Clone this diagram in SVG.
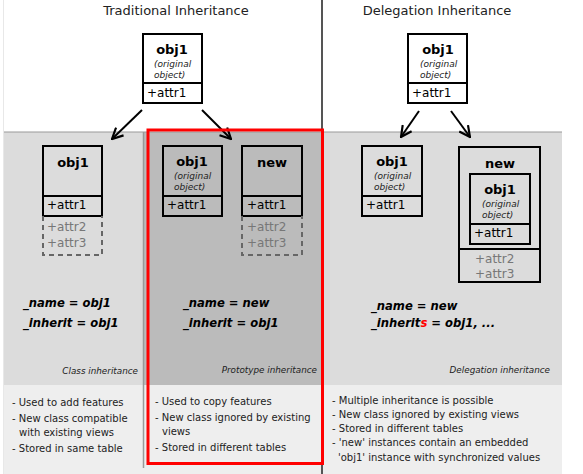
<svg xmlns="http://www.w3.org/2000/svg" width="583" height="474" viewBox="0 0 583 474">
<defs>
<style>
text{font-family:"DejaVu Sans","Liberation Sans",sans-serif;fill:#000}
.title{font-size:13px;text-anchor:middle;fill:#222}
.box{fill:none;stroke:#000;stroke-width:2}
.dash{fill:none;stroke:#666;stroke-width:2;stroke-dasharray:5,4}
.nm{font-size:13px;font-weight:bold;text-anchor:middle}
.orig{font-size:9px;font-style:italic;fill:#222}
.attr{font-size:12px}
.gattr{font-size:12px;fill:#777}
.code{font-size:11.6px;font-weight:bold;font-style:italic}
.cap{font-size:8.8px;font-style:italic;text-anchor:end;fill:#222}
.note{font-size:10px;fill:#222}
.arr{stroke:#000;stroke-width:2;fill:none}
</style>
<marker id="ah" viewBox="0 0 12 12" refX="11" refY="6" markerWidth="13" markerHeight="13" markerUnits="userSpaceOnUse" orient="auto">
<path d="M1,1 L11,6 L1,11" fill="none" stroke="#000" stroke-width="2"/>
</marker>
</defs>
<rect x="0" y="0" width="583" height="474" fill="#fff"/>
<rect x="3" y="132" width="559" height="253" fill="#dcdcdc"/>
<rect x="143" y="132" width="179" height="253" fill="#bbbbbb"/>
<rect x="3" y="385" width="559" height="89" fill="#eeeeee"/>
<line x1="3" y1="132" x2="562" y2="132" stroke="#999" stroke-width="1"/>
<line x1="143.5" y1="132" x2="143.5" y2="468" stroke="#999" stroke-width="1.5"/>
<line x1="322" y1="0" x2="322" y2="474" stroke="#555" stroke-width="2"/>
<line x1="3.5" y1="0" x2="3.5" y2="474" stroke="#e8e8e8" stroke-width="1"/>

<text class="title" x="176" y="15">Traditional Inheritance</text>
<text class="title" x="437" y="15">Delegation Inheritance</text>

<g id="connectors">
<line class="arr" x1="142" y1="110" x2="112" y2="139" marker-end="url(#ah)"/>
<line class="arr" x1="202" y1="110" x2="231" y2="139" marker-end="url(#ah)"/>
<line class="arr" x1="419" y1="111" x2="401" y2="137" marker-end="url(#ah)"/>
<line class="arr" x1="451" y1="111" x2="470" y2="137" marker-end="url(#ah)"/>
</g>

<g id="trad-obj1">
<rect class="box" x="143" y="34" width="59" height="69" fill="#fff"/>
<line class="box" x1="143" y1="83" x2="202" y2="83"/>
<text class="nm" x="172" y="54">obj1</text>
<text class="orig" x="154" y="67">(original</text>
<text class="orig" x="154" y="78">object)</text>
<text class="attr" x="147" y="97">+attr1</text>
</g>

<g id="class-obj1">
<rect class="box" x="43" y="146" width="59" height="70"/>
<line class="box" x1="43" y1="196" x2="102" y2="196"/>
<text class="nm" x="73" y="167">obj1</text>
<text class="attr" x="47" y="209">+attr1</text>
<path class="dash" d="M43,216 V255 H102 V216"/>
<text class="gattr" x="47" y="231">+attr2</text>
<text class="gattr" x="47" y="247">+attr3</text>
</g>

<g id="proto-obj1">
<rect class="box" x="163" y="146" width="59" height="70"/>
<line class="box" x1="163" y1="196" x2="222" y2="196"/>
<text class="nm" x="192" y="166">obj1</text>
<text class="orig" x="174" y="179">(original</text>
<text class="orig" x="174" y="190">object)</text>
<text class="attr" x="167" y="209">+attr1</text>
</g>

<g id="proto-new">
<rect class="box" x="242" y="146" width="60" height="70"/>
<line class="box" x1="242" y1="196" x2="302" y2="196"/>
<text class="nm" x="272" y="167">new</text>
<text class="attr" x="247" y="209">+attr1</text>
<path class="dash" d="M242,216 V255 H302 V216"/>
<text class="gattr" x="247" y="231">+attr2</text>
<text class="gattr" x="247" y="247">+attr3</text>
</g>

<g id="deleg-top-obj1">
<rect class="box" x="408" y="34" width="59" height="69" fill="#fff"/>
<line class="box" x1="408" y1="83" x2="467" y2="83"/>
<text class="nm" x="438" y="54">obj1</text>
<text class="orig" x="420" y="67">(original</text>
<text class="orig" x="420" y="78">object)</text>
<text class="attr" x="412" y="97">+attr1</text>
</g>

<g id="deleg-obj1">
<rect class="box" x="362" y="146" width="60" height="70"/>
<line class="box" x1="362" y1="196" x2="422" y2="196"/>
<text class="nm" x="392" y="166">obj1</text>
<text class="orig" x="374" y="179">(original</text>
<text class="orig" x="374" y="190">object)</text>
<text class="attr" x="366" y="209">+attr1</text>
</g>

<g id="deleg-new">
<rect class="box" x="459" y="147" width="81" height="135"/>
<line class="box" x1="459" y1="249" x2="540" y2="249"/>
<text class="nm" x="500" y="168">new</text>
<text class="gattr" x="475" y="263">+attr2</text>
<text class="gattr" x="475" y="278">+attr3</text>
</g>

<g id="deleg-inner-obj1">
<rect class="box" x="470" y="174" width="60" height="70"/>
<line class="box" x1="470" y1="224" x2="530" y2="224"/>
<text class="nm" x="500" y="194">obj1</text>
<text class="orig" x="482" y="207">(original</text>
<text class="orig" x="482" y="218">object)</text>
<text class="attr" x="474" y="237">+attr1</text>
</g>

<text class="code" x="23" y="307">_name = obj1</text>
<text class="code" x="23" y="327">_inherit = obj1</text>
<text class="code" x="183" y="307">_name = new</text>
<text class="code" x="183" y="327">_inherit = obj1</text>
<text class="code" x="371" y="310">_name = new</text>
<text class="code" x="371" y="327">_inherit<tspan fill="#f00">s</tspan> = obj1, ...</text>

<text class="cap" x="138" y="374">Class inheritance</text>
<text class="cap" x="317" y="373">Prototype inheritance</text>
<text class="cap" x="550" y="373">Delegation inheritance</text>

<text class="note" x="12" y="406">- Used to add features</text>
<text class="note" x="12" y="422">- New class compatible</text>
<text class="note" x="19" y="436">with existing views</text>
<text class="note" x="12" y="452">- Stored in same table</text>

<text class="note" x="155" y="405">- Used to copy features</text>
<text class="note" x="155" y="421">- New class ignored by existing</text>
<text class="note" x="162" y="435">views</text>
<text class="note" x="155" y="451">- Stored in different tables</text>

<text class="note" x="332" y="404">- Multiple inheritance is possible</text>
<text class="note" x="332" y="418">- New class ignored by existing views</text>
<text class="note" x="332" y="432">- Stored in different tables</text>
<text class="note" x="332" y="446">- 'new' instances contain an embedded</text>
<text class="note" x="338" y="461">'obj1' instance with synchronized values</text>

<rect x="148" y="130" width="174.5" height="333.5" fill="none" stroke="#f00" stroke-width="3"/>
</svg>
